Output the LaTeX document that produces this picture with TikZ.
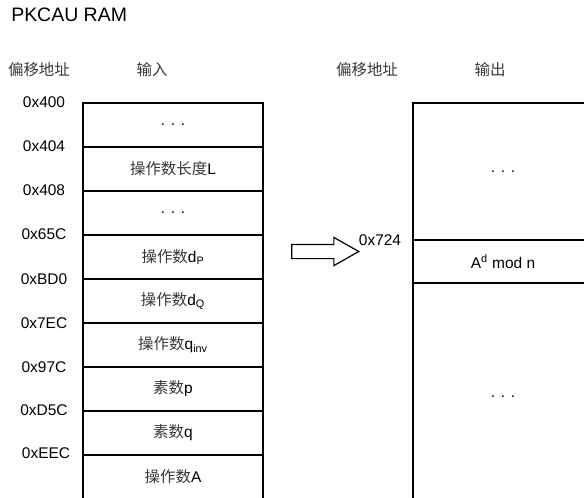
\documentclass[tikz,border=0pt]{standalone}
\usepackage{fontspec}
\setmainfont{Liberation Sans}
\newfontfamily\zhfont{Noto Sans CJK SC}
\newcommand{\zh}[1]{{\zhfont\color{black!78}#1}}
\usetikzlibrary{positioning,shapes.arrows}
\tikzset{
  cell/.style={draw=black,line width=0.9pt,minimum width=135pt,minimum height=33pt,
               inner sep=0pt,outer sep=0pt,font=\fontsize{11.6}{13}\selectfont},
  addr/.style={font=\fontsize{11.6}{13}\selectfont,inner sep=0pt},
  head/.style={font=\fontsize{11.6}{13}\selectfont,inner sep=0pt},
  title/.style={font=\fontsize{14.6}{16}\selectfont,inner sep=0pt},
  bigarrow/.style={single arrow,draw=black,line width=0.9pt,minimum height=50.25pt,
                   minimum width=0pt,single arrow head extend=5.25pt,
                   single arrow tip angle=59,inner xsep=0pt,inner ysep=4.875pt,
                   outer sep=0pt},
}
\begin{document}
\begin{tikzpicture}[x=0.75pt,y=-0.75pt]
  \clip (0,0) rectangle (584,497);
  \node[title,anchor=west] (TITLE) at (11,15) {PKCAU RAM};

  % headers
  \node[head] (INOFF) at (39,70) {\zh{偏移地址}};
  \node[head] (INHEAD) at (152,70) {\zh{输入}};
  \node[head] (OUTOFF) at (367,70) {\zh{偏移地址}};
  \node[head] (OUTHEAD) at (490,70) {\zh{输出}};

  % input memory
  \node[cell] (IN0) at (173,125) {. . .};
  \node[cell] (IN1) at (173,169) {\zh{操作数长度}L};
  \node[cell] (IN2) at (173,213) {. . .};
  \node[cell] (IN3) at (173,257) {\zh{操作数}d\textsubscript{P}};
  \node[cell] (IN4) at (173,301) {\zh{操作数}d\textsubscript{Q}};
  \node[cell] (IN5) at (173,345) {\zh{操作数}q\textsubscript{inv}};
  \node[cell] (IN6) at (173,389) {\zh{素数}p};
  \node[cell] (IN7) at (173,433) {\zh{素数}q};
  \node[cell] (IN8) at (173,477) {\zh{操作数}A};

  \node[addr] (A400) at (44,102) {0x400};
  \node[addr] (A404) at (44,146) {0x404};
  \node[addr] (A408) at (44,190) {0x408};
  \node[addr] (A65C) at (44,234) {0x65C};
  \node[addr] (ABD0) at (44,279) {0xBD0};
  \node[addr] (A7EC) at (44,323) {0x7EC};
  \node[addr] (A97C) at (44,367) {0x97C};
  \node[addr] (AD5C) at (44,410) {0xD5C};
  \node[addr] (AEEC) at (46,453) {0xEEC};

  % output memory
  \node[cell,minimum height=102.75pt] (OUT0) at (503,171.5) {. . .};
  \node[cell,minimum height=32.25pt] (OUT1) at (503,261.5) {A\textsuperscript{d} mod n};
  \node[cell,minimum height=171pt] (OUT2) at (503,397) {. . .};
  \node[addr] (A724) at (380,240) {0x724};

  \node[bigarrow] (ARR) at (319,251.5) {};
\end{tikzpicture}
\end{document}
